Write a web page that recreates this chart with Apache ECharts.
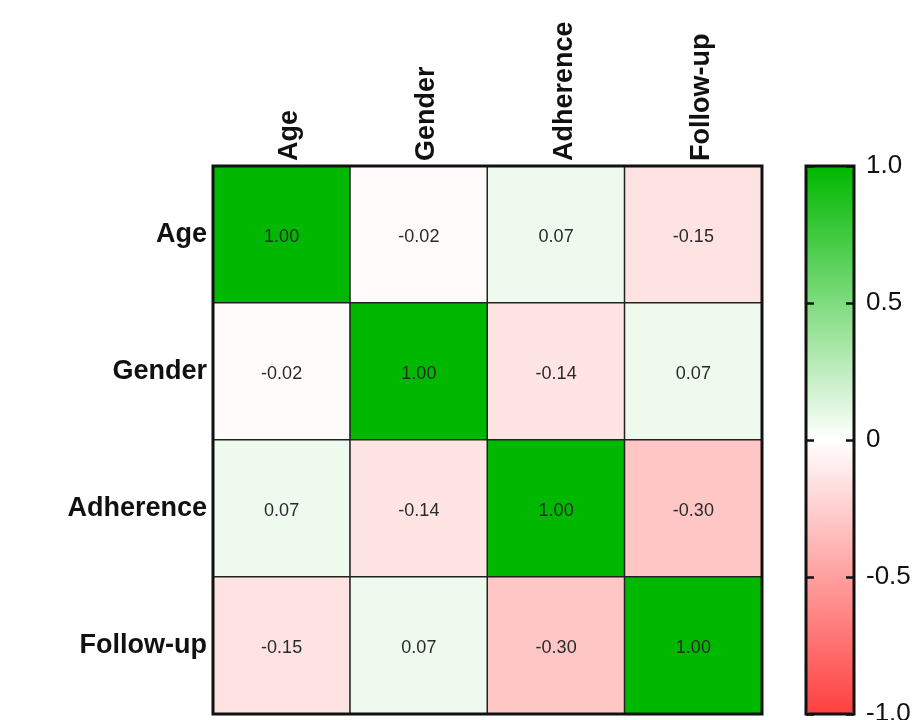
<!DOCTYPE html>
<html>
<head>
<meta charset="utf-8">
<script src="https://cdn.jsdelivr.net/npm/echarts@6/dist/echarts.min.js"></script>
<style>html,body{margin:0;padding:0;background:#fff}#c{width:913px;height:720px}</style>
</head>
<body>
<div id="c"></div>
<script>
var variables = ['Age', 'Gender', 'Adherence', 'Follow-up'];
var corrAge = [1.00, -0.02, 0.07, -0.15];
var corrGender = [-0.02, 1.00, -0.14, 0.07];
var corrAdherence = [0.07, -0.14, 1.00, -0.30];
var corrFollowUp = [-0.15, 0.07, -0.30, 1.00];
var colorbarTicks = [-1, -0.5, 0, 0.5, 1];

var rows = [corrAge, corrGender, corrAdherence, corrFollowUp];
var data = [];
rows.forEach(function (row, r) {
  row.forEach(function (v, c) { data.push([c, r, v]); });
});

var chart = echarts.init(document.getElementById('c'));
var font = 'Liberation Sans, Arial, sans-serif';
chart.setOption({
  animation: false,
  grid: [
    { left: 213, top: 166, width: 549, height: 548, show: true, backgroundColor: 'transparent', borderColor: '#111', borderWidth: 3, z: 10, outerBoundsMode: 'none', containLabel: false },
    { left: 806, top: 166, width: 48, height: 548, show: true, backgroundColor: 'transparent', borderColor: '#111', borderWidth: 3, z: 10, outerBoundsMode: 'none', containLabel: false }
  ],
  xAxis: [
    { type: 'category', gridIndex: 0, data: variables, position: 'top',
      axisLine: { show: false }, axisTick: { show: false }, splitLine: { show: false },
      axisLabel: { rotate: -90, margin: 5, color: '#111',
        formatter: function (v) { return '{s|' + v + '}'; },
        rich: { s: { fontSize: 27, fontWeight: 'bold', color: '#111', fontFamily: font, padding: [16, 0, 0, 0] } } } },
    { type: 'value', gridIndex: 1, show: false, min: 0, max: 1 }
  ],
  yAxis: [
    { type: 'category', gridIndex: 0, data: variables, inverse: true,
      axisLine: { show: false }, axisTick: { show: false }, splitLine: { show: false },
      axisLabel: { margin: 6, fontSize: 27, fontWeight: 'bold', color: '#111', fontFamily: font } },
    { type: 'value', gridIndex: 1, position: 'left', min: colorbarTicks[0], max: colorbarTicks[colorbarTicks.length - 1], interval: 0.5,
      axisLine: { show: false }, splitLine: { show: false },
      axisTick: { show: true, inside: true, length: 8, lineStyle: { color: '#111', width: 2.5 } },
      axisLabel: { show: false }, z: 11 },
    { type: 'value', gridIndex: 1, position: 'right', min: colorbarTicks[0], max: colorbarTicks[colorbarTicks.length - 1], interval: 0.5,
      axisLine: { show: false }, splitLine: { show: false },
      axisTick: { show: true, inside: true, length: 8, lineStyle: { color: '#111', width: 2.5 } },
      axisLabel: { margin: 12, fontSize: 26, color: '#111', fontFamily: font,
        formatter: function (v) { return v === 0 ? '0' : v.toFixed(1); } }, z: 11 }
  ],
  visualMap: {
    type: 'continuous', min: -1, max: 1, seriesIndex: 0, orient: 'vertical',
    left: 807, top: 167, itemWidth: 46, itemHeight: 546, padding: 0,
    calculable: false, text: null, showLabel: false, hoverLink: false,
    inRange: { color: ['#ff4040', '#ffffff', '#00b800'] }
  },
  series: [{
    type: 'heatmap', xAxisIndex: 0, yAxisIndex: 0, data: data,
    itemStyle: { borderColor: '#222', borderWidth: 1.5 },
    label: { show: true, fontSize: 18, color: '#2a2a2a', fontFamily: font, offset: [0, 3],
      formatter: function (p) { return p.value[2].toFixed(2); } },
    emphasis: { disabled: true }
  }]
});
</script>
</body>
</html>
